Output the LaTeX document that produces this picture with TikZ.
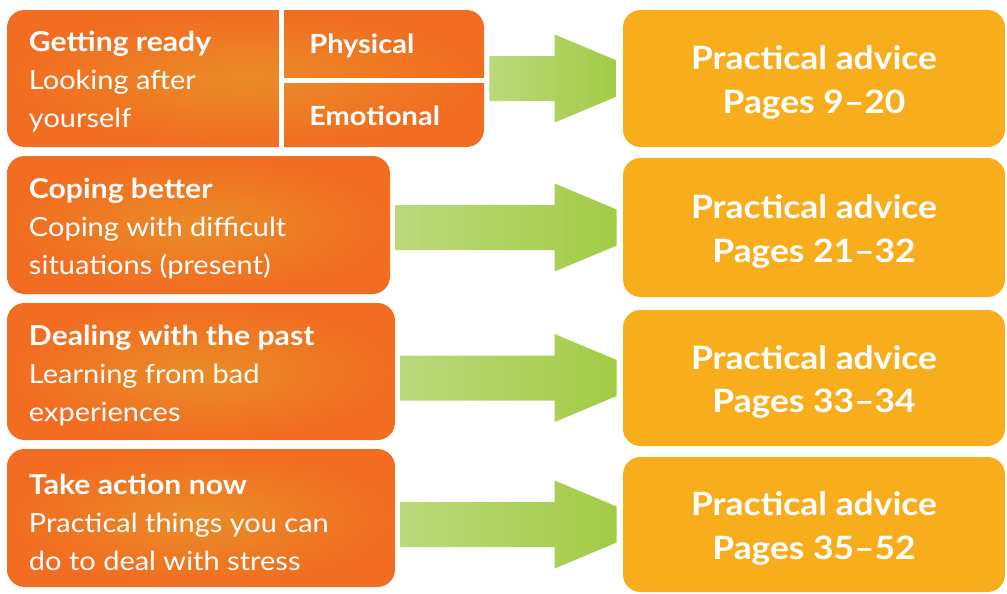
\documentclass[tikz,border=0pt]{standalone}
\usepackage{fontspec}
\setmainfont{Lato}[FakeStretch=1.1]
\usepackage{xcolor}
\usetikzlibrary{calc}
\usetikzlibrary{math}
\usetikzlibrary{positioning}

\definecolor{orangeedge}{HTML}{F26C21}
\definecolor{orangemid}{HTML}{EA8C27}
\definecolor{adviceyellow}{HTML}{F8AE1C}
\definecolor{arrowlight}{HTML}{BBD97B}
\definecolor{arrowdark}{HTML}{A3CB45}

\def\px{0.02cm}
\newcommand{\topichead}[1]{{\bfseries\fontsize{15.6}{21.6}\selectfont #1}}

\tikzset{
  topicbox/.style={rectangle, rounded corners=10pt, inner sep=0pt,
    inner color=orangemid, outer color=orangeedge},
  advicebox/.style={rectangle, rounded corners=10pt, inner sep=0pt,
    fill=adviceyellow, minimum width=382*\px},
  topictext/.style={anchor=west, align=left, inner sep=0pt, text=white,
    font=\fontsize{15}{21.6}\selectfont},
  sidetext/.style={anchor=west, inner sep=0pt, text=white,
    font=\bfseries\fontsize{15}{17}\selectfont},
  advicetext/.style={align=center, inner sep=0pt, text=white,
    font=\bfseries\fontsize{18.3}{24.6}\selectfont},
  gapline/.style={draw=white, line width=5*\px},
  arrowfill/.style={left color=arrowlight, right color=arrowdark},
}

\begin{document}
\begin{tikzpicture}[x=0.02cm, y=-0.02cm]

  \tikzmath{
    \shaft = 22.5; % half height of arrow shaft
    \head  = 44;   % half height of arrow head
    \tip   = 18;   % half height of flat arrow tip
    \hlen  = 62;   % length of arrow head
  }

  \useasboundingbox (0,0) rectangle (1007,593);

  % left hand topic boxes
  \node[topicbox, minimum width=477*\px, minimum height=137*\px] (g1) at (245.5,78.5) {};
  \node[topicbox, minimum width=383*\px, minimum height=138*\px] (c2) at (198.5,225) {};
  \node[topicbox, minimum width=388*\px, minimum height=137*\px] (d3) at (201,371.5) {};
  \node[topicbox, minimum width=388*\px, minimum height=138*\px] (t4) at (201,518) {};

  % split of the first box
  \coordinate (split) at (281.5,80.5);
  \draw[gapline] (split |- g1.north) -- (split |- g1.south);
  \draw[gapline] (split) -- (split -| g1.east);

  % right hand advice boxes
  \node[advicebox, minimum height=137*\px] (p1) at (814,78.5) {};
  \node[advicebox, minimum height=139*\px] (p2) at (814,227.5) {};
  \node[advicebox, minimum height=136*\px] (p3) at (814,378) {};
  \node[advicebox, minimum height=135*\px] (p4) at (814,524.5) {};

  % texts
  \node[topictext] (g1text) at ($(g1.west)+(22,3)$)
    {\topichead{Getting ready}\\Looking after\\yourself};
  \node[sidetext] (phys) at (309,46) {Physical};
  \node[sidetext] (emot) at (309,116) {Emotional};
  \node[topictext] (c2text) at ($(c2.west)+(22,4)$)
    {\topichead{Coping better}\\Coping with difficult\\situations (present)};
  \node[topictext] (d3text) at ($(d3.west)+(22,4)$)
    {\topichead{Dealing with the past}\\Learning from bad\\experiences};
  \node[topictext] (t4text) at ($(t4.west)+(22,4)$)
    {\topichead{Take action now}\\Practical things you can\\do to deal with stress};

  \node[advicetext] (p1text) at ($(p1.center)+(0,4)$) {Practical advice\\Pages 9--20};
  \node[advicetext] (p2text) at ($(p2.center)+(0,4)$) {Practical advice\\Pages 21--32};
  \node[advicetext] (p3text) at ($(p3.center)+(0,4)$) {Practical advice\\Pages 33--34};
  \node[advicetext] (p4text) at ($(p4.center)+(0,4)$) {Practical advice\\Pages 35--52};

  % green arrows
  \foreach \from/\to in {g1/p1, c2/p2, d3/p3, t4/p4} {
    \path[arrowfill]
      ($(\from.east |- \to.west)+(5,-\shaft)$)
      -- ($(\to.west)+(-6-\hlen,-\shaft)$)
      -- ($(\to.west)+(-6-\hlen,-\head)$)
      -- ($(\to.west)+(-6,-\tip)$)
      -- ($(\to.west)+(-6,\tip)$)
      -- ($(\to.west)+(-6-\hlen,\head)$)
      -- ($(\to.west)+(-6-\hlen,\shaft)$)
      -- ($(\from.east |- \to.west)+(5,\shaft)$)
      -- cycle;
  }

\end{tikzpicture}
\end{document}
